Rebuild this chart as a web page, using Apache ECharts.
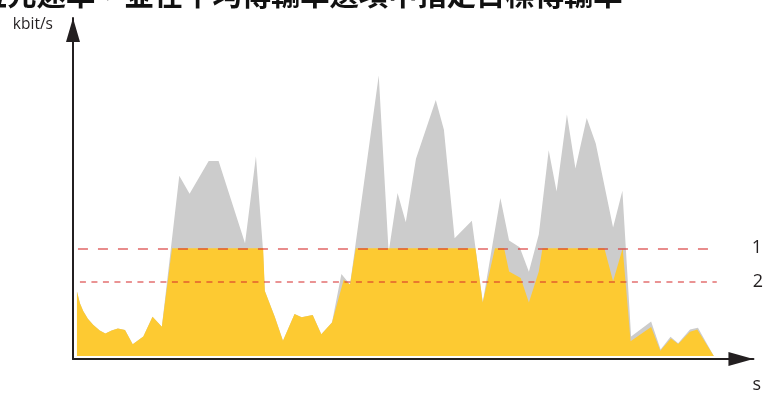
<!DOCTYPE html>
<html>
<head>
<meta charset="utf-8">
<script src="https://cdn.jsdelivr.net/npm/echarts@6/dist/echarts.min.js"></script>
<style>
  html, body { margin: 0; padding: 0; background: #ffffff; }
  #chart { width: 764px; height: 394px; }
</style>
</head>
<body>
<div id="chart"></div>
<script>
// Stream bitrate without a limit (time in s, rate in kbit/s)
const originalTime = [0, 0.3, 0.63, 1.1, 1.63, 2.3, 2.87, 3.5, 4.13, 4.85, 5.63, 6.7, 7.63, 8.57,
  10.33, 11.37, 13.3, 14.3, 16.97, 18.07, 18.75, 18.97, 19.97, 20.8, 21.97, 22.68, 23.8, 24.67,
  25.75, 26.7, 27.57, 30.47, 31.47, 32.37, 33.2, 34.23, 36.23, 37.05, 38.13, 39.87, 40.97, 42.75,
  43.63, 44.7, 45.63, 46.63, 47.63, 48.43, 49.47, 50.33, 51.47, 52.38, 54.13, 55.07, 55.95, 57.97,
  58.93, 59.93, 60.7, 61.9, 62.7, 64.3];
const originalRate = [660, 540, 460, 380, 320, 260, 230, 260, 280, 265, 120, 200, 400, 300,
  1840, 1657, 1990, 1990, 1150, 2040, 1130, 663, 400, 155, 430, 397, 420, 223,
  343, 837, 730, 2863, 1060, 1663, 1365, 2013, 2613, 2310, 1203, 1380, 550, 1613,
  1180, 1110, 860, 1240, 2100, 1680, 2465, 1913, 2430, 2170, 1313, 1687, 200, 353,
  67, 197, 130, 270, 290, 0];

// Stream bitrate with the maximum bitrate applied
const limitedTime = [0, 0.3, 0.63, 1.1, 1.63, 2.3, 2.87, 3.5, 4.13, 4.85, 5.63, 6.7, 7.63, 8.57,
  9.6, 18.8, 18.97, 19.97, 20.8, 21.97, 22.68, 23.8, 24.67, 25.75, 26.93, 27.57, 28.15, 40.23,
  40.97, 42.2, 43.13, 43.63, 44.8, 45.63, 46.63, 47.0, 53.25, 54.13, 55.1, 55.9, 57.97, 58.9,
  59.97, 60.7, 61.9, 62.63, 64.3];
const limitedRate = [660, 540, 460, 380, 320, 260, 230, 260, 280, 265, 120, 200, 400, 300,
  1100, 1100, 663, 400, 155, 430, 397, 420, 223, 343, 780, 730, 1100, 1100,
  547, 1100, 1100, 863, 797, 547, 863, 1100, 1100, 763, 1100, 150, 297, 53,
  180, 123, 247, 270, 0];

// Reference levels: 1 = maximum bitrate, 2 = target average bitrate
const levelRates = [1100, 760];
const levelLabels = ['1', '2'];

const titleText = '位元速率，並在平均傳輸率選項中指定目標傳輸率';
const yAxisName = 'kbit/s';
const xAxisName = 's';

const zip = (xs, ys) => xs.map((x, i) => [x, ys[i]]);

const levelLine = (rate, label, from, to, dash) => ({
  symbol: 'none',
  silent: true,
  lineStyle: { color: 'rgba(214, 44, 44, 0.68)', width: 1.6, type: dash },
  label: {
    show: true, position: 'end', formatter: label, distance: 36,
    color: '#231f20', fontSize: 18, fontFamily: 'Open Sans', padding: [2, 0, 0, 0]
  },
  data: [[{ coord: [from, rate] }, { coord: [to, rate] }]]
});

const chart = echarts.init(document.getElementById('chart'), null, { renderer: 'canvas' });

chart.setOption({
  animation: false,
  backgroundColor: '#ffffff',
  graphic: [{
    type: 'text',
    left: -22,
    top: -21,
    style: {
      text: titleText,
      fill: '#111111',
      font: 'bold 29.3px "Noto Sans CJK TC"'
    }
  }],
  grid: { left: 73, right: 4, top: 18, bottom: 28, containLabel: false },
  xAxis: {
    type: 'value',
    min: -0.4,
    max: 68.3,
    name: xAxisName,
    nameLocation: 'end',
    nameGap: -1,
    nameTextStyle: {
      color: '#231f20', fontSize: 18, fontFamily: 'Open Sans',
      align: 'left', verticalAlign: 'top', padding: [17, 0, 0, 0]
    },
    axisLine: {
      show: true,
      onZero: false,
      lineStyle: { color: '#231f20', width: 2 },
      symbol: ['none', 'triangle'],
      symbolSize: [14, 25],
      symbolOffset: [0, -12.5]
    },
    axisTick: { show: false },
    axisLabel: { show: false },
    splitLine: { show: false }
  },
  yAxis: {
    type: 'value',
    min: -30,
    max: 3450,
    name: yAxisName,
    nameLocation: 'end',
    nameGap: -15,
    nameTextStyle: {
      color: '#231f20', fontSize: 15.5, fontFamily: 'Open Sans',
      align: 'right', verticalAlign: 'bottom', padding: [0, 20, 0, 0]
    },
    axisLine: {
      show: true,
      onZero: false,
      lineStyle: { color: '#231f20', width: 2 },
      symbol: ['none', 'triangle'],
      symbolSize: [14, 24],
      symbolOffset: [0, -12]
    },
    axisTick: { show: false },
    axisLabel: { show: false },
    splitLine: { show: false }
  },
  series: [
    {
      name: 'original',
      type: 'line',
      data: zip(originalTime, originalRate),
      symbol: 'none',
      lineStyle: { width: 0 },
      areaStyle: { color: '#cccccc', opacity: 1 },
      z: 1
    },
    {
      name: 'limited',
      type: 'line',
      data: zip(limitedTime, limitedRate),
      symbol: 'none',
      lineStyle: { width: 0 },
      areaStyle: { color: '#fdca32', opacity: 1 },
      z: 2
    },
    {
      name: 'level 1',
      type: 'line',
      data: [],
      markLine: levelLine(levelRates[0], levelLabels[0], 0.1, 64.5, [10, 10]),
      z: 3
    },
    {
      name: 'level 2',
      type: 'line',
      data: [],
      markLine: levelLine(levelRates[1], levelLabels[1], 0.3, 64.6, [6, 5.5]),
      z: 3
    }
  ]
});
</script>
</body>
</html>
